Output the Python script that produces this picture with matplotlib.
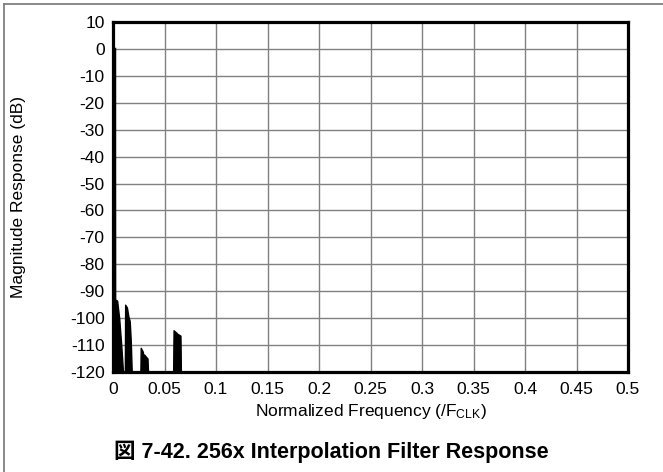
import matplotlib
matplotlib.use("Agg")
import matplotlib.pyplot as plt
from matplotlib.lines import Line2D

plt.rcParams['font.family'] = ['Liberation Sans', 'Noto Sans CJK JP', 'DejaVu Sans']
plt.rcParams['mathtext.fontset'] = 'custom'
plt.rcParams['mathtext.rm'] = 'Liberation Sans'
plt.rcParams['mathtext.it'] = 'Liberation Sans'

# Envelope of the magnitude response (normalized frequency, dB)
freq = [0.0, 0.0003, 0.0017, 0.0019, 0.0040, 0.0060, 0.0080, 0.0097,
        0.0115, 0.0118, 0.0135, 0.0150, 0.0162, 0.0172, 0.0182,
        0.0266, 0.0269, 0.0290, 0.0295, 0.0302, 0.0335, 0.0340,
        0.0584, 0.0588, 0.0618, 0.0624, 0.0655, 0.0659]
mag = [-120, 0.0, -30, -93, -93.5, -100, -110, -120,
       -120, -95, -96, -99.5, -101, -108, -120,
       -120, -111, -112.5, -116, -113.5, -115, -120,
       -120, -104.5, -105.5, -105.8, -106.5, -120]

# Passband spike at DC
spike_freq = [0.0012, 0.0012]
spike_mag = [-120, 0]

xticks = [0, 0.05, 0.1, 0.15, 0.2, 0.25, 0.3, 0.35, 0.4, 0.45, 0.5]
xtick_labels = ['0', '0.05', '0.1', '0.15', '0.2', '0.25', '0.3', '0.35', '0.4', '0.45', '0.5']
yticks = list(range(10, -130, -10))

fig = plt.figure(figsize=(6.63, 4.72), dpi=100)
ax = fig.add_axes([113/663, 1 - 372/472, (628-113)/663, (372-22)/472])

ax.fill_between(freq, mag, -120, color='black', linewidth=1.0, edgecolor='black')
ax.plot(spike_freq, spike_mag, color='black', linewidth=2.5)

ax.set_xlim(0, 0.5)
ax.set_ylim(-120, 10)
ax.set_xticks(xticks)
ax.set_xticklabels(xtick_labels)
ax.set_yticks(yticks)
ax.set_yticklabels([str(v) for v in yticks])
ax.tick_params(length=0, labelsize=12.5)
ax.tick_params(axis='x', pad=7)
ax.tick_params(axis='y', pad=6)
ax.grid(True, color='#808080', linewidth=1.0)
ax.set_axisbelow(True)
for s in ax.spines.values():
    s.set_linewidth(2.3)
    s.set_color('black')

ax.set_xlabel(r'Normalized Frequency (/F$_{\mathrm{CLK}}$)', fontsize=12.5)
ax.set_ylabel('Magnitude Response (dB)', fontsize=12.5)
ax.xaxis.set_label_coords(0.5, -0.085)
ax.yaxis.set_label_coords(-0.168, 0.5)

fig.text(331/663, 1 - 452/472, '図 7-42. 256x Interpolation Filter Response',
         ha='center', va='center', fontsize=15.5, fontweight='bold',
         family=['Liberation Sans', 'Noto Sans CJK JP'])

fig.add_artist(Line2D([4/663, 1], [1 - 4/472, 1 - 4/472], transform=fig.transFigure,
                      color='#808080', linewidth=1.3))
fig.add_artist(Line2D([4/663, 4/663], [0, 1 - 4/472], transform=fig.transFigure,
                      color='#808080', linewidth=1.3))

fig.savefig('out.png', dpi=100)
